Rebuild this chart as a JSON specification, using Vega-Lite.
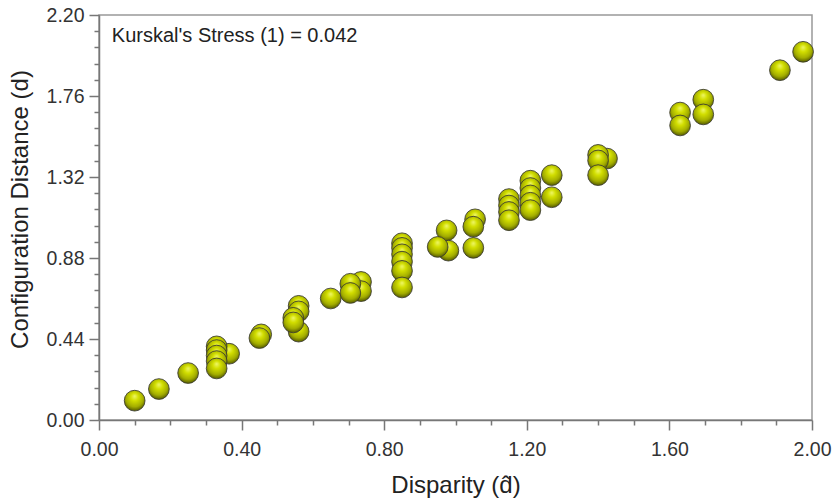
{
  "$schema": "https://vega.github.io/schema/vega-lite/v6.json",
  "width": 713,
  "height": 405,
  "autosize": {"type": "none"},
  "padding": {"left": 99, "top": 15, "right": 24, "bottom": 79},
  "background": "white",
  "config": {
    "font": "Liberation Sans",
    "view": {"stroke": "#999999", "strokeWidth": 1.5}
  },
  "layer": [
    {
      "data": {
        "values": [
          {"disparity": 1.975, "distance": 2.0},
          {"disparity": 1.91, "distance": 1.9},
          {"disparity": 1.695, "distance": 1.74},
          {"disparity": 1.695, "distance": 1.66},
          {"disparity": 1.63, "distance": 1.67},
          {"disparity": 1.63, "distance": 1.6},
          {"disparity": 1.425, "distance": 1.42},
          {"disparity": 1.4, "distance": 1.44},
          {"disparity": 1.4, "distance": 1.41},
          {"disparity": 1.4, "distance": 1.33},
          {"disparity": 1.27, "distance": 1.33},
          {"disparity": 1.27, "distance": 1.21},
          {"disparity": 1.21, "distance": 1.3},
          {"disparity": 1.21, "distance": 1.26},
          {"disparity": 1.21, "distance": 1.22},
          {"disparity": 1.21, "distance": 1.18},
          {"disparity": 1.21, "distance": 1.14},
          {"disparity": 1.15, "distance": 1.2},
          {"disparity": 1.15, "distance": 1.165},
          {"disparity": 1.15, "distance": 1.13},
          {"disparity": 1.15, "distance": 1.085},
          {"disparity": 1.055, "distance": 1.09},
          {"disparity": 1.05, "distance": 1.05},
          {"disparity": 1.05, "distance": 0.935},
          {"disparity": 0.975, "distance": 1.03},
          {"disparity": 0.98, "distance": 0.92},
          {"disparity": 0.95, "distance": 0.94},
          {"disparity": 0.85, "distance": 0.96},
          {"disparity": 0.85, "distance": 0.935},
          {"disparity": 0.85, "distance": 0.9},
          {"disparity": 0.85, "distance": 0.86},
          {"disparity": 0.85, "distance": 0.81},
          {"disparity": 0.85, "distance": 0.72},
          {"disparity": 0.735, "distance": 0.75},
          {"disparity": 0.735, "distance": 0.7},
          {"disparity": 0.705, "distance": 0.74},
          {"disparity": 0.705, "distance": 0.69},
          {"disparity": 0.65, "distance": 0.66},
          {"disparity": 0.56, "distance": 0.62},
          {"disparity": 0.56, "distance": 0.59},
          {"disparity": 0.56, "distance": 0.48},
          {"disparity": 0.545, "distance": 0.555},
          {"disparity": 0.545, "distance": 0.53},
          {"disparity": 0.455, "distance": 0.465},
          {"disparity": 0.45, "distance": 0.445},
          {"disparity": 0.365, "distance": 0.36},
          {"disparity": 0.33, "distance": 0.4},
          {"disparity": 0.33, "distance": 0.38},
          {"disparity": 0.33, "distance": 0.35},
          {"disparity": 0.33, "distance": 0.32},
          {"disparity": 0.33, "distance": 0.28},
          {"disparity": 0.25, "distance": 0.255},
          {"disparity": 0.168, "distance": 0.168},
          {"disparity": 0.1, "distance": 0.105}
        ]
      },
      "mark": {
        "type": "point",
        "shape": "circle",
        "filled": true,
        "size": 430,
        "opacity": 1,
        "fill": {
          "gradient": "radial",
          "x1": 0.5, "y1": 0.28, "r1": 0,
          "x2": 0.5, "y2": 0.42, "r2": 0.62,
          "stops": [
            {"offset": 0, "color": "#eef66a"},
            {"offset": 0.3, "color": "#d2de00"},
            {"offset": 0.68, "color": "#a3ad00"},
            {"offset": 1, "color": "#454a00"}
          ]
        },
        "stroke": "#3a3a30",
        "strokeWidth": 1,
        "strokeOpacity": 0.85
      },
      "encoding": {
        "x": {
          "field": "disparity",
          "type": "quantitative",
          "scale": {"domain": [0, 2], "nice": false, "zero": false},
          "axis": {
            "values": [0, 0.1, 0.2, 0.3, 0.4, 0.5, 0.6, 0.7, 0.8, 0.9, 1.0, 1.1, 1.2, 1.3, 1.4, 1.5, 1.6, 1.7, 1.8, 1.9, 2.0],
            "tickCount": 200,
            "format": ".2f",
            "labelExpr": "abs(datum.value*2.5 - round(datum.value*2.5)) < 0.001 ? datum.label : ''",
            "tickSize": {"condition": {"test": "abs(datum.value*2.5 - round(datum.value*2.5)) < 0.001", "value": 10}, "value": 5},
            "grid": false,
            "domainColor": "#777777",
            "domainWidth": 1.5,
            "tickColor": "#777777",
            "tickWidth": 1.5,
            "labelFontSize": 19.5,
            "labelColor": "#333333",
            "labelPadding": 10,
            "labelFlush": false,
            "labelOverlap": false,
            "title": "Disparity (d̂)",
            "titleFontSize": 24,
            "titleFontWeight": "normal",
            "titleColor": "#222222",
            "titlePadding": 15
          }
        },
        "y": {
          "field": "distance",
          "type": "quantitative",
          "scale": {"domain": [0, 2.2], "nice": false, "zero": false},
          "axis": {
            "values": [0, 0.088, 0.176, 0.264, 0.352, 0.44, 0.528, 0.616, 0.704, 0.792, 0.88, 0.968, 1.056, 1.144, 1.232, 1.32, 1.408, 1.496, 1.584, 1.672, 1.76, 1.848, 1.936, 2.024, 2.112, 2.2],
            "tickCount": 200,
            "format": ".2f",
            "labelExpr": "abs(datum.value/0.44 - round(datum.value/0.44)) < 0.001 ? datum.label : ''",
            "tickSize": {"condition": {"test": "abs(datum.value/0.44 - round(datum.value/0.44)) < 0.001", "value": 10}, "value": 5},
            "grid": false,
            "domainColor": "#777777",
            "domainWidth": 1.5,
            "tickColor": "#777777",
            "tickWidth": 1.5,
            "labelFontSize": 19.5,
            "labelColor": "#333333",
            "labelPadding": 5,
            "labelFlush": false,
            "labelOverlap": false,
            "title": "Configuration Distance (d)",
            "titleFontSize": 24,
            "titleFontWeight": "normal",
            "titleColor": "#222222",
            "titlePadding": 14,
            "titleY": 194
          }
        }
      }
    },
    {
      "data": {"values": [{}]},
      "mark": {
        "type": "text",
        "text": "Kurskal's Stress (1) = 0.042",
        "align": "left",
        "baseline": "middle",
        "fontSize": 20,
        "font": "Liberation Sans",
        "color": "#222222"
      },
      "encoding": {
        "x": {"datum": 0.036, "type": "quantitative"},
        "y": {"datum": 2.087, "type": "quantitative"}
      }
    }
  ]
}
